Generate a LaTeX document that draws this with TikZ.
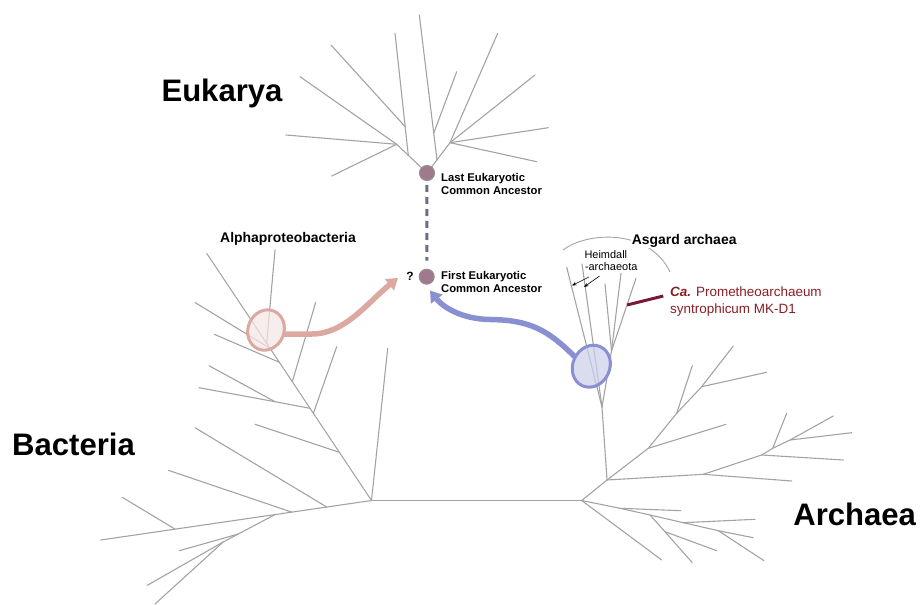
\documentclass[tikz,border=0pt]{standalone}
\usepackage{fontspec}
\setmainfont{Liberation Sans}
\usetikzlibrary{arrows.meta,shapes.geometric}
\definecolor{treegray}{RGB}{163,163,163}
\definecolor{ancfill}{RGB}{160,122,140}
\definecolor{ancdraw}{RGB}{150,140,148}
\definecolor{dashcol}{RGB}{108,108,138}
\definecolor{pinkd}{RGB}{219,168,162}
\definecolor{pinkf}{RGB}{245,230,230}
\definecolor{blued}{RGB}{136,144,210}
\definecolor{bluef}{RGB}{205,208,234}
\definecolor{redline}{RGB}{122,24,52}
\definecolor{redtext}{RGB}{138,30,36}
\begin{document}
\begin{tikzpicture}[x=1bp,y=-1bp,
  tree/.style={draw=treegray, line width=1.1bp, line cap=round},
  anc/.style={circle, fill=ancfill, draw=ancdraw, line width=1bp, minimum size=15bp, inner sep=0},
  bigl/.style={font=\fontsize{31.2}{36}\selectfont\bfseries, inner sep=0},
  midl/.style={font=\fontsize{14}{17}\selectfont\bfseries, inner sep=0},
  smalll/.style={font=\fontsize{11.3}{13.5}\selectfont\bfseries, inner sep=0},
  heim/.style={font=\fontsize{11}{13}\selectfont, inner sep=0},
  redl/.style={font=\fontsize{13.5}{16}\selectfont, text=redtext, inner sep=0},
  fatarrow/.style={line width=5.5bp, -{Triangle[length=11bp,width=14bp]}},
  thinarrow/.style={draw=black, line width=0.6bp, -{Stealth[length=4.5bp,width=3.5bp]}},
  bubble/.style={ellipse, line width=3bp, inner sep=0},
]
\useasboundingbox (0,0) rectangle (921,605);

% ---------- Eukarya tree ----------
\coordinate (lecaC) at (427,173);
\coordinate (eA) at (396.7,144.3);
\coordinate (eT1) at (408.3,155.3);
\coordinate (eS1) at (405.2,126.7);
\coordinate (eB) at (450,142.7);
\coordinate (eR1) at (437,160);
\coordinate (eS2) at (433.7,133.3);
\draw[tree] (lecaC) -- (eA) -- (300,76.7);
\draw[tree] (eA) -- (286,135);
\draw[tree] (eA) -- (331.7,176);
\draw[tree] (eT1) -- (395,33.3);
\draw[tree] (eS1) -- (331,45);
\draw[tree] (lecaC) -- (eB) -- (497.7,33.3);
\draw[tree] (eB) -- (535,75);
\draw[tree] (eB) -- (548.3,127.7);
\draw[tree] (eB) -- (536.7,161.7);
\draw[tree] (eR1) -- (419.3,15);
\draw[tree] (eS2) -- (456.7,71.7);

% ---------- Bacteria tree ----------
\coordinate (rB) at (371.5,500.5);
\coordinate (rA) at (581.7,500.5);
\draw[tree] (rB) -- (rA);
\draw[tree] (rB) -- (387.7,348.3);
\coordinate (bK1) at (339.4,452.3);
\coordinate (bK2) at (313.4,413.3);
\coordinate (bK3) at (310,408.3);
\coordinate (bK3s) at (275,401.7);
\coordinate (bK4) at (292.3,381.7);
\coordinate (bK5) at (279.4,362.3);
\coordinate (bJa) at (270,348.3);
\coordinate (bJb) at (266.7,343.3);
\draw[tree] (rB) -- (206.7,253.3);
\draw[tree] (bK1) -- (255,424.3);
\draw[tree] (bK2) -- (336.7,346.7);
\draw[tree] (bK3) -- (bK3s) -- (199,387.7);
\draw[tree] (bK3s) -- (209,365.7);
\draw[tree] (bK4) -- (315.7,302.3);
\draw[tree] (bK5) -- (214.3,334.3);
\draw[tree] (bJa) -- (195,302.5);
\draw[tree] (bJb) -- (275,250);
% lower bacteria
\coordinate (bL1) at (326.7,507.0);
\coordinate (bL2) at (291.7,512.1);
\coordinate (bL3) at (275,514.6);
\coordinate (bL4) at (175,529.1);
\coordinate (bM1) at (238.3,534);
\coordinate (bM2) at (223.3,541.9);
\draw[tree] (rB) -- (100.7,540);
\draw[tree] (bL1) -- (195,427.7);
\draw[tree] (bL2) -- (168.3,470.3);
\draw[tree] (bL4) -- (122.3,497.3);
\draw[tree] (bL3) -- (bM1) -- (179.3,550.7);
\draw[tree] (bM1) -- (bM2) -- (147.3,585.3);
\draw[tree] (bM2) -- (155,604);

% ---------- Archaea tree ----------
\coordinate (aP1) at (607,480);
\coordinate (aQ1) at (703.3,474.3);
\coordinate (aQ2) at (761.7,455);
\coordinate (aQ3) at (772.7,448.3);
\coordinate (aQ4) at (790,440);
\coordinate (aU1) at (648.3,448.3);
\coordinate (aU2) at (676.7,413.3);
\coordinate (aU3) at (701.7,386.7);
\draw[tree] (rA) -- (aP1) -- (aQ1) -- (791.7,481);
\draw[tree] (aQ1) -- (aQ2) -- (843.3,460);
\draw[tree] (aQ2) -- (aQ3) -- (786.7,413.3);
\draw[tree] (aQ3) -- (aQ4) -- (833.3,416);
\draw[tree] (aQ4) -- (851.7,432.7);
\draw[tree] (aP1) -- (aU1) -- (aU2) -- (aU3) -- (733.3,346);
\draw[tree] (aU1) -- (726,424.3);
\draw[tree] (aU2) -- (692.3,365.7);
\draw[tree] (aU3) -- (766.7,372.3);
\coordinate (aV1) at (620,508.3);
\coordinate (aV2) at (650,515);
\coordinate (aV3) at (665,531.7);
\coordinate (aV4) at (683.3,522.7);
\coordinate (aV5) at (718.3,530.7);
\draw[tree] (rA) -- (661.7,560);
\draw[tree] (rA) -- (aV1) -- (680.7,510.7);
\draw[tree] (aV1) -- (aV2) -- (aV4) -- (aV5) -- (753.3,537.7);
\draw[tree] (aV2) -- (aV3) -- (692.3,562.7);
\draw[tree] (aV3) -- (716.7,550.7);
\draw[tree] (aV4) -- (755,519.3);
\draw[tree] (aV5) -- (764,560.7);
% Asgard subtree
\coordinate (aN1) at (602,407);
\coordinate (aN2) at (611.5,351);
\draw[tree] (aP1) -- (aN1) -- (566.7,267.3);
\draw[tree] (aN1) -- (582,264);
\draw[tree] (aN1) -- (aN2) -- (605,284);
\draw[tree] (aN2) -- (621,273.3);
\draw[tree] (aN2) -- (636,278.3);
\coordinate (mkbase) at (627,305);
\coordinate (mkend) at (663.3,296);
\draw[draw=redline, line width=3bp] (mkbase) -- (mkend);

% Asgard arc and Heimdall arrows
\draw[draw=treegray, line width=0.9bp] (563,250) .. controls (588,231) and (650,229) .. (670,272);
\coordinate (h1s) at (589,277);
\coordinate (h1e) at (572,285.5);
\coordinate (h2s) at (599.5,276);
\coordinate (h2e) at (584,287);
\draw[thinarrow] (h1s) -- (h1e);
\draw[thinarrow] (h2s) -- (h2e);

% ---------- bubbles ----------
\node[bubble, draw=pinkd, fill=pinkf, fill opacity=0.7, minimum width=36bp, minimum height=41bp, rotate=-22] (alpha) at (266,330) {};
\node[bubble, draw=blued, fill=bluef, fill opacity=0.75, minimum width=37bp, minimum height=43bp, rotate=-25] (asg) at (591.3,366.2) {};

% ---------- ancestors ----------
\node[anc] (leca) at (lecaC) {};
\node[anc] (feca) at (426.7,276.7) {};
\draw[draw=dashcol, line width=3bp, dash pattern=on 7bp off 5bp, shorten <=4bp, shorten >=8bp] (leca) -- (feca);

% ---------- arrows ----------
\coordinate (pinkstart) at (284,334);
\coordinate (pinktip) at (398,278);
\coordinate (bluestart) at (575,357);
\coordinate (bluetip) at (430,290.5);
\draw[fatarrow, draw=pinkd] (pinkstart) -- (312,334) .. controls (345,334) and (368,302) .. (pinktip);
\draw[fatarrow, draw=blued] (bluestart) .. controls (548,330) and (530,320) .. (490,319.5) .. controls (460,319) and (442,306) .. (bluetip);

% ---------- labels ----------
\node[bigl, anchor=base] (eukl) at (222,102) {Eukarya};
\node[bigl, anchor=base] (bactl) at (73.5,455) {Bacteria};
\node[bigl, anchor=base] (archl) at (854.7,525) {Archaea};
\node[midl, anchor=base] (alphal) at (288,242.7) {Alphaproteobacteria};
\node[midl, anchor=base, fill=white, inner sep=1bp] (asgl) at (684.2,244.3) {Asgard archaea};
\node[heim, anchor=base west] (heim1) at (584.3,258.3) {Heimdall};
\node[heim, anchor=base west] (heim2) at (584.8,270.7) {-archaeota};
\node[redl, anchor=base west] (ca1) at (670,296) {{\bfseries\itshape Ca.} Prometheoarchaeum};
\node[redl, anchor=base west] (ca2) at (670,313.3) {syntrophicum MK-D1};
\node[smalll, anchor=base west] (leca1) at (441,181.7) {Last Eukaryotic};
\node[smalll, anchor=base west] (leca2) at (441,195) {Common Ancestor};
\node[smalll, anchor=base west] (feca1) at (441,279.3) {First Eukaryotic};
\node[smalll, anchor=base west] (feca2) at (441,292.7) {Common Ancestor};
\node[font=\fontsize{12}{14}\selectfont\bfseries, anchor=base, inner sep=0] (qm) at (410,280.7) {?};
\end{tikzpicture}
\end{document}
